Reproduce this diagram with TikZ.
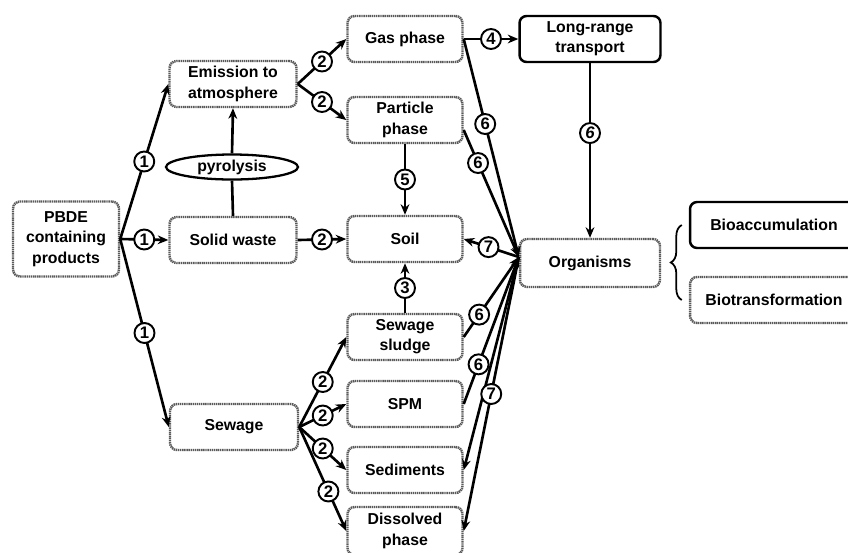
\documentclass[tikz,border=0pt]{standalone}
\usepackage{fontspec}
\setmainfont{Liberation Sans}
\usetikzlibrary{arrows.meta,shapes.geometric,decorations.pathreplacing}

\begin{document}
\begin{tikzpicture}[x=0.02cm, y=-0.02cm,
        font=\fontsize{9}{11.5}\selectfont\bfseries,
        box/.style={draw=black!65, line width=1.4pt, dash pattern=on 0.8pt off 0.4pt,
            rounded corners=4pt, align=center, inner sep=1pt,
            minimum width=2.3cm, minimum height=0.92cm},
        darkbox/.style={box, draw=black, solid},
        num/.style={circle, draw, line width=1.1pt, fill=white, inner sep=0pt,
            minimum size=0.4cm, font=\fontsize{9.5}{10}\selectfont\bfseries},
        arr/.style={-{Stealth[length=6pt,width=5pt]}, line width=1.5pt},
        link/.style={line width=1.5pt}]
    \useasboundingbox (0,0) rectangle (848,552);

    \node[box, minimum width=2.12cm, minimum height=1.5cm] (pbde) at (66,239) {PBDE\\containing\\products};
    \node[box, minimum width=2.54cm] (emis) at (233,84) {Emission to\\atmosphere};
    \node[ellipse, draw, line width=1.3pt, inner sep=0pt, minimum width=2.64cm, minimum height=0.5cm] (pyro) at (232,167) {pyrolysis};
    \node[box, minimum width=2.54cm] (solid) at (233,240) {Solid waste};
    \node[box, minimum width=2.56cm] (sew) at (234,427) {Sewage};

    \node[box] (gas) at (405,39) {Gas phase};
    \node[box] (part) at (405,120) {Particle\\phase};
    \node[box] (soil) at (405,239) {Soil};
    \node[box] (sludge) at (405,337) {Sewage\\sludge};
    \node[box] (spm) at (405,404) {SPM};
    \node[box] (sed) at (405,470) {Sediments};
    \node[box, minimum height=0.96cm] (diss) at (405,531) {Dissolved\\phase};

    \node[darkbox, minimum width=2.82cm] (lrt) at (590,39) {Long-range\\transport};
    \node[box, minimum width=2.8cm, minimum height=0.96cm] (org) at (590,263) {Organisms};
    \node[darkbox, minimum width=3.36cm] (bioacc) at (774,225) {Bioaccumulation};
    \node[box, minimum width=3.36cm] (biotr) at (774,300) {Biotransformation};

    \coordinate (hub) at ([yshift=0.12cm]org.west);

    \draw[arr] (pbde.east) -- node[num] (c1a) {1} (emis.west);
    \draw[arr] (pbde.east) -- node[num] (c1b) {1} (solid.west);
    \draw[arr] (pbde.east) -- node[num] (c1c) {1} (sew.west);

    \draw[link] (solid.north) -- (pyro.south);
    \draw[arr] (pyro.north) -- (emis.south);

    \draw[arr] (emis.east) -- node[num] (c2a) {2} (gas.west);
    \draw[arr] (emis.east) -- node[num] (c2b) {2} (part.west);
    \draw[arr] (solid.east) -- node[num] (c2c) {2} (soil.west);
    \draw[arr] (sew.east) -- node[num] (c2d) {2} (sludge.west);
    \draw[arr] (sew.east) -- node[num] (c2e) {2} (spm.west);
    \draw[arr] (sew.east) -- node[num] (c2f) {2} (sed.west);
    \draw[arr] (sew.east) -- node[num, pos=0.62] (c2g) {2} (diss.west);

    \draw[arr] (sludge.north) -- node[num] (c3) {3} (soil.south);
    \draw[arr] (gas.east) -- node[num] (c4) {4} (lrt.west);
    \draw[arr] (part.south) -- node[num] (c5) {5} (soil.north);
    \draw[arr] (lrt.south) -- node[num, pos=0.4, font=\fontsize{9.5}{10}\selectfont\bfseries\itshape] (c6a) {6} (org.north);

    \draw[arr] (gas.east) -- node[num, pos=0.39] (c6b) {6} (hub);
    \draw[arr] ([yshift=-0.2cm]part.east) -- node[num, pos=0.26] (c6c) {6} (hub);
    \draw[arr] (sludge.east) -- node[num, pos=0.28] (c6d) {6} (hub);
    \draw[arr] (spm.east) -- node[num, pos=0.27] (c6e) {6} (hub);

    \draw[arr] (hub) -- node[num, pos=0.55] (c7a) {7} (soil.east);
    \draw[arr] (hub) -- (sed.east);
    \draw[arr] (hub) -- node[num, pos=0.5] (c7b) {7} (diss.east);

    \draw[line width=1pt, decorate, decoration={brace, amplitude=0.22cm}]
        ([xshift=-0.14cm]biotr.west) -- ([xshift=-0.14cm]bioacc.west);
\end{tikzpicture}
\end{document}
